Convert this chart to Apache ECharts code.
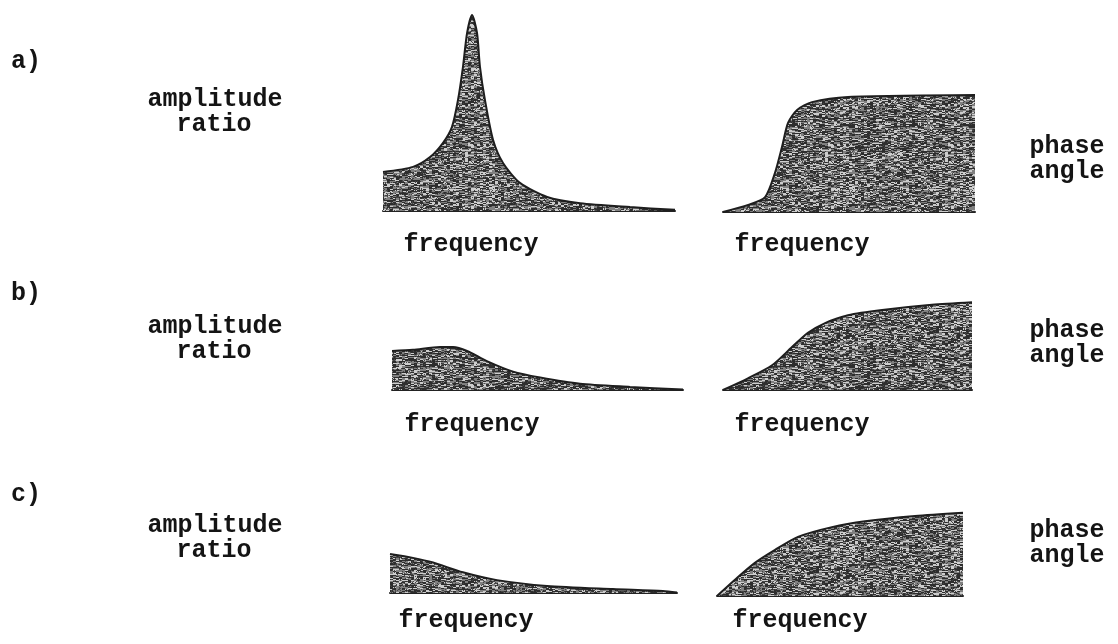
<!DOCTYPE html>
<html>
<head>
<meta charset="utf-8">
<script src="https://cdn.jsdelivr.net/npm/echarts@6/dist/echarts.min.js"></script>
<style>
  html, body { margin: 0; padding: 0; background: #ffffff; }
  #chart { width: 1118px; height: 644px; }
</style>
</head>
<body>
<div id="chart"></div>
<script>
// Frequency response of a second-order system at three damping levels.
// Frequency is on a normalized 0..10 scale; amplitude ratio is relative to
// the static response; phase angle is in degrees.

// a) light damping
const freqAmpA = [0, 1.03, 1.61, 2.05, 2.36, 2.57, 2.74, 2.88, 3.05, 3.22, 3.32, 3.49, 3.77, 4.11, 4.69, 5.62, 6.75, 8.46, 10];
const ampA     = [1.0, 1.13, 1.38, 1.74, 2.15, 2.85, 3.70, 4.56, 5.02, 4.56, 3.70, 2.85, 1.82, 1.23, 0.72, 0.36, 0.20, 0.10, 0.03];
const freqPhaseA = [0, 1.0, 1.67, 2.06, 2.34, 2.58, 2.94, 3.53, 4.96, 10];
const phaseA     = [0, 11, 23, 60, 100, 137, 157, 169, 177, 180];

// b) moderate damping
const freqAmpB = [0, 0.72, 1.65, 2.10, 2.58, 3.26, 4.16, 5.09, 6.46, 8.18, 10];
const ampB     = [1.0, 1.03, 1.10, 1.10, 1.0, 0.74, 0.47, 0.32, 0.16, 0.08, 0.01];
const freqPhaseB = [0, 1.0, 1.97, 2.77, 3.41, 4.10, 5.02, 6.39, 8.39, 10];
const phaseB     = [0, 18, 38, 66, 88, 103, 115, 123, 131, 135];

// c) heavy damping
const freqAmpC = [0, 0.80, 1.50, 2.54, 3.73, 5.47, 7.77, 9.51, 10];
const ampC     = [1.0, 0.90, 0.78, 0.53, 0.33, 0.18, 0.10, 0.05, 0.01];
const freqPhaseC = [0, 0.73, 1.54, 2.36, 3.29, 4.67, 6.02, 8.05, 10];
const phaseC     = [0, 25, 51, 71, 91, 106, 115, 123, 128];

const caseLabels  = ['a)', 'b)', 'c)'];
const ampLines    = ['amplitude', 'ratio'];
const phaseLines  = ['phase', 'angle'];
const xLabel      = 'frequency';

const AMP_MAX = 5.2;
const PHASE_MAX = 180;

// stippled grey fill, built from a deterministic hash so every render is identical
function hash2(x, y) {
  let n = Math.imul(x, 374761393) + Math.imul(y, 668265263);
  n = Math.imul(n ^ (n >>> 13), 1274126177);
  n = n ^ (n >>> 16);
  return (n >>> 0) / 4294967296;
}
function stipple() {
  const size = 120;
  const c = document.createElement('canvas');
  c.width = size; c.height = size;
  const ctx = c.getContext('2d');
  const img = ctx.createImageData(size, size);
  for (let y = 0; y < size; y++) {
    for (let x = 0; x < size; x++) {
      const v = hash2(Math.floor(x / 3), y);
      const w = hash2(x + 7, y + 911);
      let g = v < 0.40 ? 45 : (v < 0.74 ? 128 : 205);
      if (w < 0.15) g = 70;
      const i = (y * size + x) * 4;
      img.data[i] = g; img.data[i + 1] = g; img.data[i + 2] = g; img.data[i + 3] = 255;
    }
  }
  ctx.putImageData(img, 0, 0);
  return c;
}
const fillPattern = { image: stipple(), repeat: 'repeat' };

// panel boxes: left edge, baseline y, width, axis maximum, pixel height of that maximum
const panels = [
  { f: freqAmpA,   v: ampA,   left: 383, base: 211, width: 292, max: AMP_MAX,   h: 203 },
  { f: freqPhaseA, v: phaseA, left: 723, base: 212, width: 252, max: PHASE_MAX, h: 117 },
  { f: freqAmpB,   v: ampB,   left: 392, base: 390, width: 291, max: AMP_MAX,   h: 203 },
  { f: freqPhaseB, v: phaseB, left: 723, base: 390, width: 249, max: PHASE_MAX, h: 117 },
  { f: freqAmpC,   v: ampC,   left: 390, base: 593, width: 287, max: AMP_MAX,   h: 203 },
  { f: freqPhaseC, v: phaseC, left: 717, base: 596, width: 246, max: PHASE_MAX, h: 117 }
];

const grid = [], xAxis = [], yAxis = [], series = [];
panels.forEach((p, i) => {
  grid.push({ left: p.left, top: p.base - p.h, width: p.width, height: p.h, containLabel: false });
  xAxis.push({
    type: 'value', gridIndex: i, min: 0, max: 10,
    axisLine: { show: true, onZero: false, lineStyle: { color: '#222222', width: 2 } },
    axisTick: { show: false }, axisLabel: { show: false }, splitLine: { show: false }
  });
  yAxis.push({
    type: 'value', gridIndex: i, min: 0, max: p.max,
    axisLine: { show: false }, axisTick: { show: false },
    axisLabel: { show: false }, splitLine: { show: false }
  });
  series.push({
    type: 'line', xAxisIndex: i, yAxisIndex: i,
    data: p.f.map((x, k) => [x, p.v[k]]),
    smooth: 0.25, showSymbol: false, silent: true,
    lineStyle: { color: '#1e1e1e', width: 2 },
    areaStyle: { color: fillPattern, opacity: 1 }
  });
});

const font = 'bold 25px "Liberation Mono", "DejaVu Sans Mono", monospace';
function txt(t, x, y) {
  return { type: 'text', x: x, y: y, silent: true,
    style: { text: t, font: font, fill: '#141414', textAlign: 'center', textVerticalAlign: 'middle', textBaseline: 'middle' } };
}
const rowY = [
  { tag: 62,  amp: 100, phase: 147, freq: 245 },
  { tag: 294, amp: 327, phase: 331, freq: 425 },
  { tag: 495, amp: 526, phase: 531, freq: 621 }
];
const freqX = [[471, 802], [472, 802], [466, 800]];
const graphic = [];
rowY.forEach((r, i) => {
  graphic.push(txt(caseLabels[i], 26, r.tag));
  graphic.push(txt(ampLines[0], 215, r.amp));
  graphic.push(txt(ampLines[1], 214, r.amp + 25));
  graphic.push(txt(phaseLines[0], 1067, r.phase));
  graphic.push(txt(phaseLines[1], 1067, r.phase + 25));
  graphic.push(txt(xLabel, freqX[i][0], r.freq));
  graphic.push(txt(xLabel, freqX[i][1], r.freq));
});

const chart = echarts.init(document.getElementById('chart'), null, { renderer: 'canvas' });
chart.setOption({
  backgroundColor: '#ffffff',
  animation: false,
  grid: grid, xAxis: xAxis, yAxis: yAxis, series: series,
  graphic: graphic
});
</script>
</body>
</html>
